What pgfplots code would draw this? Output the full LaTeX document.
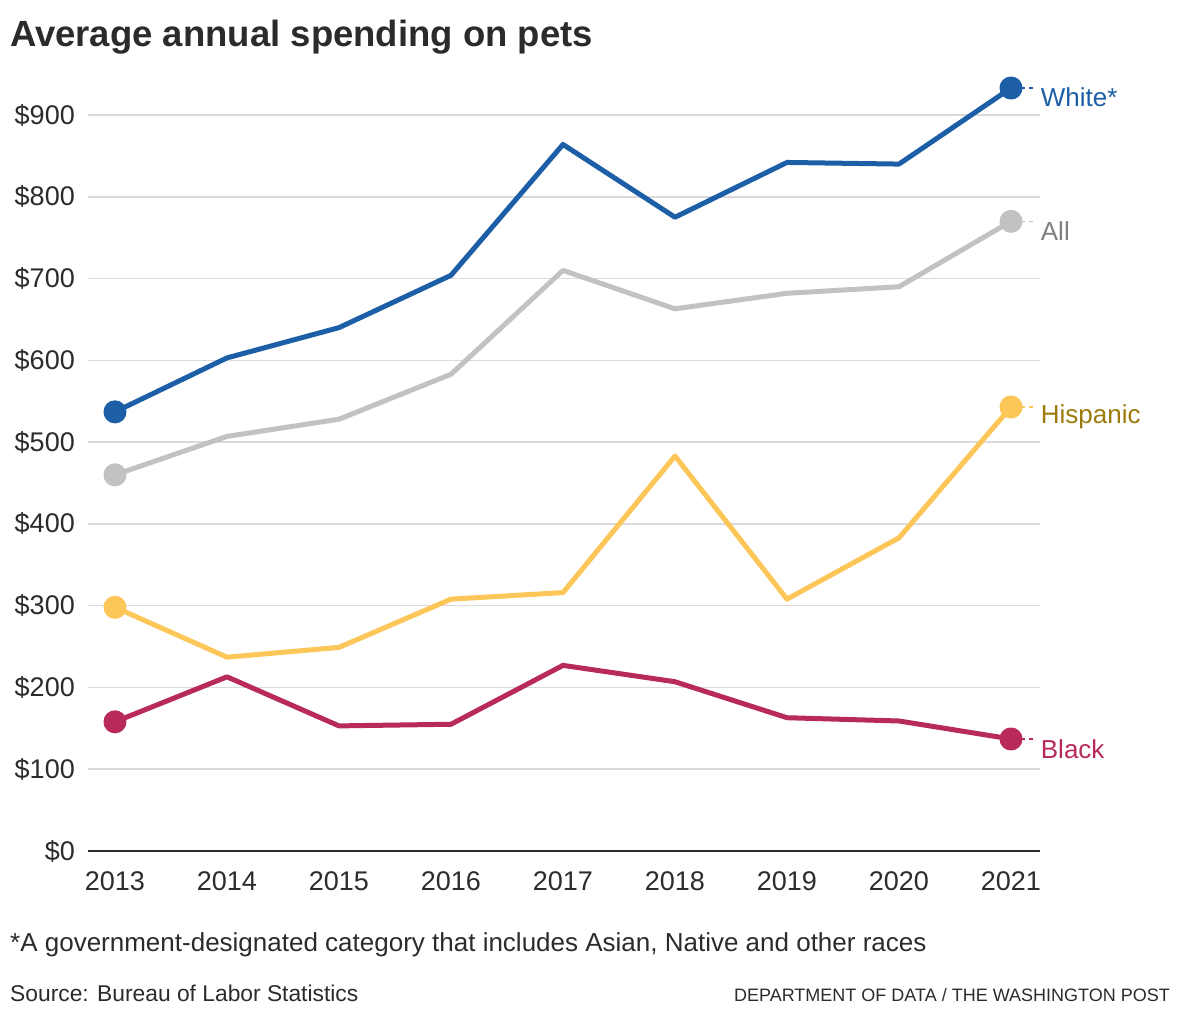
\documentclass[border=0pt]{standalone}
\usepackage{fontspec}
\setmainfont{Liberation Sans}
\usepackage{pgfplots}
\pgfplotsset{compat=1.18}

\definecolor{whiteblue}{HTML}{1C5FA7}
\definecolor{allgray}{HTML}{C2C2C2}
\definecolor{alltext}{HTML}{808080}
\definecolor{hisp}{HTML}{FCC658}
\definecolor{hisptext}{HTML}{9C7A0A}
\definecolor{blackred}{HTML}{B72A5B}
\definecolor{gridc}{HTML}{DADADA}
\definecolor{ink}{HTML}{2B2B2B}

\begin{document}
\begin{tikzpicture}[x=1pt,y=1pt]
\useasboundingbox (0,0) rectangle (1180,-1020);
\node[anchor=base west, inner sep=0, text=ink, font=\fontsize{36.5}{40}\selectfont\bfseries] at (10,-46) {Average annual spending on pets};

\begin{axis}[
    at={(88pt,-851pt)}, anchor=south west,
    scale only axis, width=952pt, height=736pt,
    xmin=2012.759, xmax=2021.259,
    ymin=0, ymax=900,
    clip=false,
    axis line style={draw=none},
    tick style={draw=none},
    ymajorgrids,
    grid style={color=gridc, line width=1.5pt},
    ytick={0,100,...,900},
    yticklabels={\$0,\$100,\$200,\$300,\$400,\$500,\$600,\$700,\$800,\$900},
    xtick={2013,...,2021},
    xticklabels={2013,2014,2015,2016,2017,2018,2019,2020,2021},
    yticklabel style={anchor=east, inner sep=0, xshift=-13pt, text=ink, font=\fontsize{27}{30}\selectfont},
    xticklabel style={anchor=north, inner sep=0, yshift=-20pt, text=ink, font=\fontsize{27}{30}\selectfont},
    every axis plot/.append style={line width=5pt, line join=round},
]
\addplot[draw=ink, line width=2.5pt, forget plot] coordinates {(2012.759,0) (2021.259,0)};

% All
\addplot[allgray] coordinates {
(2013,460) (2014,507) (2015,528) (2016,583) (2017,710) (2018,663) (2019,682) (2020,690) (2021,770)};
% White
\addplot[whiteblue] coordinates {
(2013,537) (2014,603) (2015,640) (2016,704) (2017,864) (2018,775) (2019,842) (2020,840) (2021,933)};
% Hispanic
\addplot[hisp] coordinates {
(2013,298) (2014,237) (2015,249) (2016,308) (2017,316) (2018,483) (2019,308) (2020,383) (2021,543)};
% Black
\addplot[blackred] coordinates {
(2013,158) (2014,213) (2015,153) (2016,155) (2017,227) (2018,207) (2019,163) (2020,159) (2021,137)};

% end dots
\addplot[allgray, only marks, mark=*, mark size=9pt] coordinates {(2013,460) (2021,770)};
\addplot[whiteblue, only marks, mark=*, mark size=9pt] coordinates {(2013,537) (2021,933)};
\addplot[hisp, only marks, mark=*, mark size=9pt] coordinates {(2013,298) (2021,543)};
\addplot[blackred, only marks, mark=*, mark size=9pt] coordinates {(2013,158) (2021,137)};

% dashed connectors
\addplot[allgray, line width=1.5pt, dash pattern=on 4pt off 4pt] coordinates {(2021.09,770) (2021.2,770)};
\addplot[whiteblue, line width=1.5pt, dash pattern=on 4pt off 4pt] coordinates {(2021.09,933) (2021.2,933)};
\addplot[hisp, line width=1.5pt, dash pattern=on 4pt off 4pt] coordinates {(2021.09,543) (2021.2,543)};
\addplot[blackred, line width=1.5pt, dash pattern=on 4pt off 4pt] coordinates {(2021.09,137) (2021.2,137)};

\node[anchor=west, inner sep=0, text=whiteblue, font=\fontsize{26}{30}\selectfont] at (axis cs:2021.265,922) {White*};
\node[anchor=west, inner sep=0, text=alltext, font=\fontsize{26}{30}\selectfont] at (axis cs:2021.265,758) {All};
\node[anchor=west, inner sep=0, text=hisptext, font=\fontsize{26}{30}\selectfont] at (axis cs:2021.265,531) {Hispanic};
\node[anchor=west, inner sep=0, text=blackred, font=\fontsize{26}{30}\selectfont] at (axis cs:2021.265,125) {Black};
\end{axis}

\node[anchor=base west, inner sep=0, text=ink, font=\fontsize{26}{30}\selectfont] at (10,-951) {*A government-designated category that includes Asian, Native and other races};
\node[anchor=base west, inner sep=0, text=ink, font=\fontsize{22.8}{26}\selectfont] at (10,-1001) {Source: Bureau of Labor Statistics};
\node[anchor=base east, inner sep=0, text=ink, font=\fontsize{18}{22}\selectfont] at (1170,-1001) {DEPARTMENT OF DATA / THE WASHINGTON POST};
\end{tikzpicture}
\end{document}
